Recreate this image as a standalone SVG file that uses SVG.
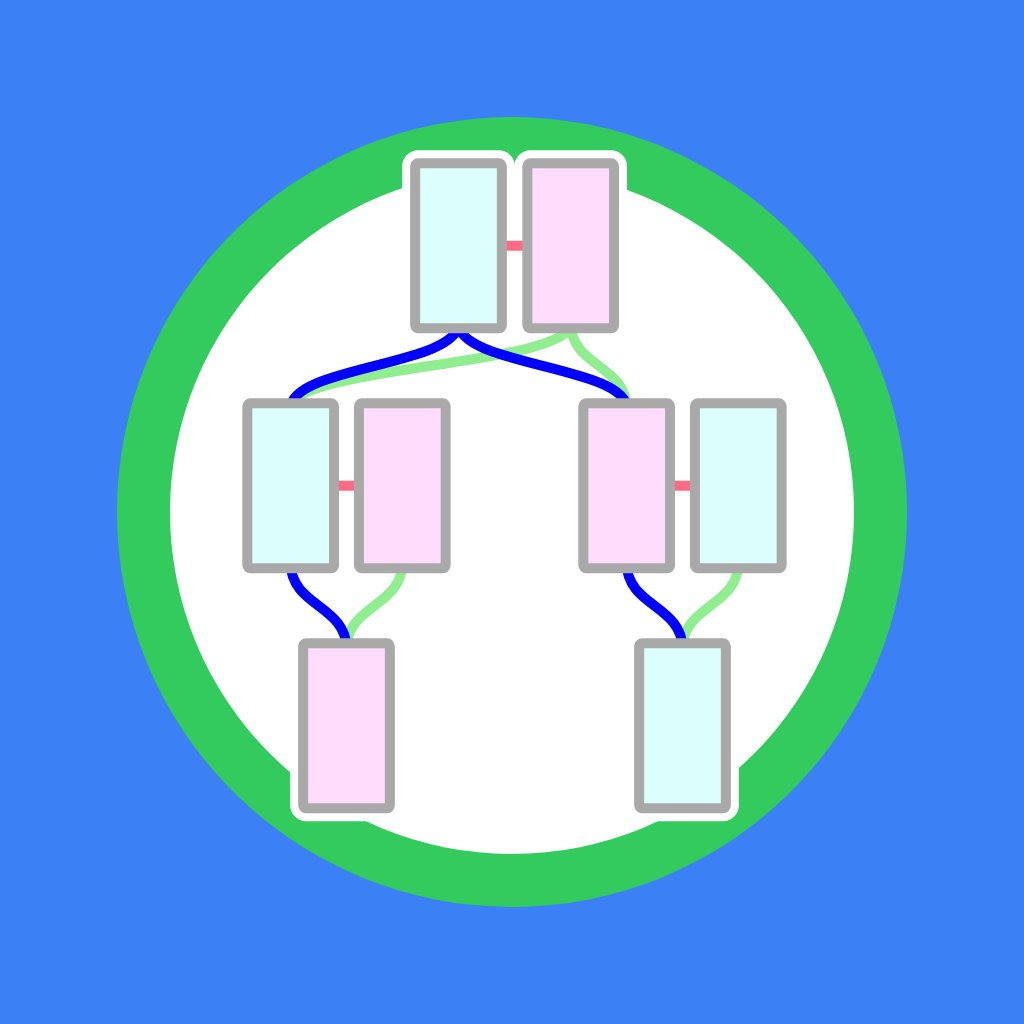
<svg xmlns="http://www.w3.org/2000/svg" width="1024" height="1024" viewBox="0 0 1024 1024">
  <defs>
    <style>
      .halo { fill: #ffffff; stroke: #ffffff; stroke-width: 26; stroke-linejoin: round; }
      .node { stroke: #a9a9a9; stroke-width: 10; }
      .cyan { fill: #dcfffe; }
      .pink { fill: #ffdcfc; }
      .lnk { fill: none; stroke-width: 10; }
      .blue { stroke: #0000ff; }
      .green { stroke: #90ee90; }
      .couple { stroke: #ff6b84; stroke-width: 10; }
    </style>
  </defs>
  <rect x="0" y="0" width="1024" height="1024" fill="#3b80f4"/>
  <circle cx="512" cy="512" r="395" fill="#34cb5e"/>
  <circle cx="512" cy="512" r="342" fill="#ffffff"/>

  <g id="halos">
    <rect class="halo" x="415.15" y="163.3" width="86.7" height="165" rx="3"/>
    <rect class="halo" x="527.35" y="163.3" width="86.7" height="165" rx="3"/>
    <rect class="halo" x="247.35" y="403.3" width="86.7" height="165" rx="3"/>
    <rect class="halo" x="358.95" y="403.3" width="86.7" height="165" rx="3"/>
    <rect class="halo" x="583.35" y="403.3" width="86.7" height="165" rx="3"/>
    <rect class="halo" x="694.95" y="403.3" width="86.7" height="165" rx="3"/>
    <rect class="halo" x="303.15" y="643.3" width="86.7" height="165" rx="3"/>
    <rect class="halo" x="639.15" y="643.3" width="86.7" height="165" rx="3"/>
  </g>

  <g id="connectors">
    <line class="couple" x1="458.5" y1="245.8" x2="570.7" y2="245.8"/>
    <line class="couple" x1="290.7" y1="485.8" x2="402.3" y2="485.8"/>
    <line class="couple" x1="626.7" y1="485.8" x2="738.3" y2="485.8"/>
    <path class="lnk green" d="M570.7 323.3 C570.7 365.8 290.7 365.8 290.7 408.3"/>
    <path class="lnk green" d="M570.7 323.3 C570.7 365.8 626.7 365.8 626.7 408.3"/>
    <path class="lnk green" d="M402.3 563.3 C402.3 605.8 346.5 605.8 346.5 648.3"/>
    <path class="lnk green" d="M738.3 563.3 C738.3 605.8 682.5 605.8 682.5 648.3"/>
    <path class="lnk blue" d="M458.5 323.3 C458.5 365.8 290.7 365.8 290.7 408.3"/>
    <path class="lnk blue" d="M458.5 323.3 C458.5 365.8 626.7 365.8 626.7 408.3"/>
    <path class="lnk blue" d="M290.7 563.3 C290.7 605.8 346.5 605.8 346.5 648.3"/>
    <path class="lnk blue" d="M626.7 563.3 C626.7 605.8 682.5 605.8 682.5 648.3"/>
  </g>

  <g id="node-top-left"><rect class="node cyan" x="415.15" y="163.3" width="86.7" height="165" rx="3"/></g>
  <g id="node-top-right"><rect class="node pink" x="527.35" y="163.3" width="86.7" height="165" rx="3"/></g>
  <g id="node-mid-1"><rect class="node cyan" x="247.35" y="403.3" width="86.7" height="165" rx="3"/></g>
  <g id="node-mid-2"><rect class="node pink" x="358.95" y="403.3" width="86.7" height="165" rx="3"/></g>
  <g id="node-mid-3"><rect class="node pink" x="583.35" y="403.3" width="86.7" height="165" rx="3"/></g>
  <g id="node-mid-4"><rect class="node cyan" x="694.95" y="403.3" width="86.7" height="165" rx="3"/></g>
  <g id="node-bottom-left"><rect class="node pink" x="303.15" y="643.3" width="86.7" height="165" rx="3"/></g>
  <g id="node-bottom-right"><rect class="node cyan" x="639.15" y="643.3" width="86.7" height="165" rx="3"/></g>
</svg>
